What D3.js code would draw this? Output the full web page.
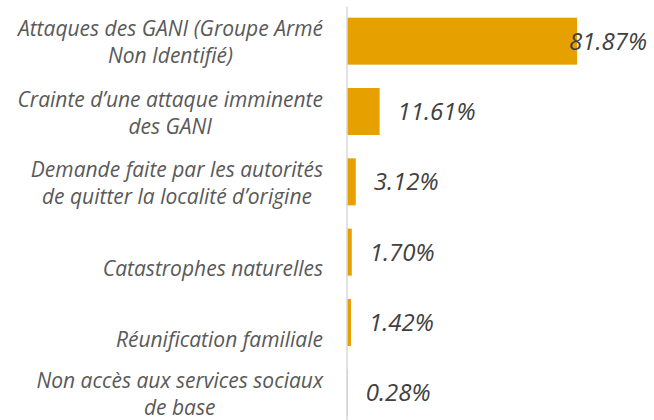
<!DOCTYPE html>
<html>
<head>
<meta charset="utf-8">
<script src="https://cdn.jsdelivr.net/npm/d3@7"></script>
<style>
  body { margin: 0; background: #fff; }
  svg { display: block; font-family: 'Open Sans', sans-serif; font-style: italic; }
</style>
</head>
<body>
<svg width="654" height="420"></svg>
<script>
'use strict';
const categories = [
  'Attaques des GANI (Groupe Armé|Non Identifié)',
  'Crainte d\u2019une attaque imminente|des GANI',
  'Demande faite par les autorités|de quitter la localité d\u2019origine',
  'Catastrophes naturelles',
  'Réunification familiale',
  'Non accès aux services sociaux|de base'
];
const values = [81.87, 11.61, 3.12, 1.70, 1.42, 0.28];
const value_labels = ['81.87%', '11.61%', '3.12%', '1.70%', '1.42%', '0.28%'];

const svg = d3.select('svg');
const svg_width = +svg.attr('width');

const x_scale = d3.scaleLinear()
  .domain([0, 100])
  .range([347, 628]);

const y_scale = d3.scaleBand()
  .domain(categories)
  .range([6, 428])
  .paddingInner(0.332)
  .paddingOuter(0.166);

//draw bars
svg.append('g')
  .selectAll('rect').data(values).enter()
  .append('rect')
    .attr('x', x_scale(0))
    .attr('y', (d, i) => y_scale(categories[i]))
    .attr('width', d => x_scale(d) - x_scale(0))
    .attr('height', y_scale.bandwidth())
    .attr('fill', '#E6A000');

//left axis line only
const axis_g = svg.append('g')
  .attr('transform', `translate(${x_scale(0) - 0.5},0)`)
  .call(d3.axisLeft(y_scale).tickSize(0).tickFormat(''));
axis_g.select('.domain').attr('stroke', '#D9D9D9').attr('stroke-width', 1.5);

//category labels: lines centred on each other, block right-aligned
const label_right = 323;
const label_g = svg.append('g')
  .attr('font-size', 21)
  .attr('fill', '#595959')
  .attr('text-anchor', 'middle');
categories.forEach((c, i) => {
  const mid = y_scale(c) + y_scale.bandwidth() / 2;
  const lines = c.split('|');
  const txt = label_g.append('text');
  const spans = lines.map((l, j) => txt.append('tspan')
    .attr('y', lines.length === 1 ? mid + 24 : mid - 5 + j * 27)
    .text(l));
  const w = d3.max(spans, s => s.node().getComputedTextLength());
  spans.forEach(s => s.attr('x', label_right - w / 2));
});

//value labels
svg.append('g')
  .attr('font-size', 24)
  .attr('fill', '#404040')
  .selectAll('text').data(values).enter()
  .append('text')
    .attr('y', (d, i) => y_scale(categories[i]) + y_scale.bandwidth() / 2)
    .attr('dy', '0.36em')
    .text((d, i) => value_labels[i])
    .attr('x', function(d) {
      const w = this.getComputedTextLength();
      return Math.min(x_scale(d) + 18, svg_width - 7 - w);
    });
</script>
</body>
</html>
